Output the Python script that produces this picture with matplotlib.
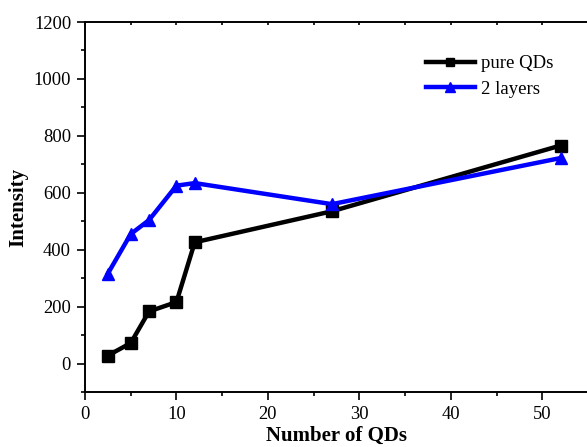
import numpy as np
import matplotlib
matplotlib.use("Agg")
import matplotlib.pyplot as plt
from matplotlib.ticker import MultipleLocator

# значения
n_qds = [2.5, 5, 7, 10, 12, 27, 52]
pure_qds = [28, 72, 183, 216, 426, 535, 766]
two_layers = [316, 455, 504, 625, 634, 560, 722]

plt.rcParams['font.family'] = ['Liberation Serif', 'DejaVu Serif']

fig = plt.figure(figsize=(5.87, 4.47), dpi=100)
ax = fig.add_axes([85 / 587, 55 / 447, 503 / 587, 370 / 447])

ax.plot(n_qds, pure_qds, color='black', lw=3.2, marker='s', ms=8,
        label='pure QDs')
ax.plot(n_qds, two_layers, color='#0000ff', lw=3.2, marker='^', ms=9,
        label='2 layers')

ax.set_xlim(0, 55)
ax.set_ylim(-100, 1200)
ax.xaxis.set_major_locator(MultipleLocator(10))
ax.xaxis.set_minor_locator(MultipleLocator(5))
ax.yaxis.set_major_locator(MultipleLocator(200))
ax.yaxis.set_minor_locator(MultipleLocator(100))

ax.tick_params(axis='both', which='major', direction='out', length=6,
               width=1.2, labelsize=13.3, pad=4)
ax.tick_params(axis='both', which='minor', direction='out', length=3,
               width=1.2)

# верхняя ось: короткие засечки внутрь, без подписей
ax_top = ax.twiny()
ax_top.set_xlim(ax.get_xlim())
ax_top.xaxis.set_major_locator(MultipleLocator(5))
ax_top.tick_params(axis='x', direction='in', length=2.5, width=1.2,
                   labeltop=False)

for a in (ax, ax_top):
    for s in a.spines.values():
        s.set_linewidth(1.2)

ax.set_xlabel('Number of QDs', fontsize=15, fontweight='bold', labelpad=2)
ax.set_ylabel('Intensity', fontsize=15, fontweight='bold', labelpad=4)

ax.legend(loc='upper left', bbox_to_anchor=(426 / 587, 1 - 55 / 447),
          bbox_transform=fig.transFigure, frameon=False, fontsize=13.5,
          handlelength=2.6, handletextpad=0.35, labelspacing=0.45,
          markerscale=0.8, borderaxespad=0, borderpad=0)

fig.savefig('out.png', dpi=100)
